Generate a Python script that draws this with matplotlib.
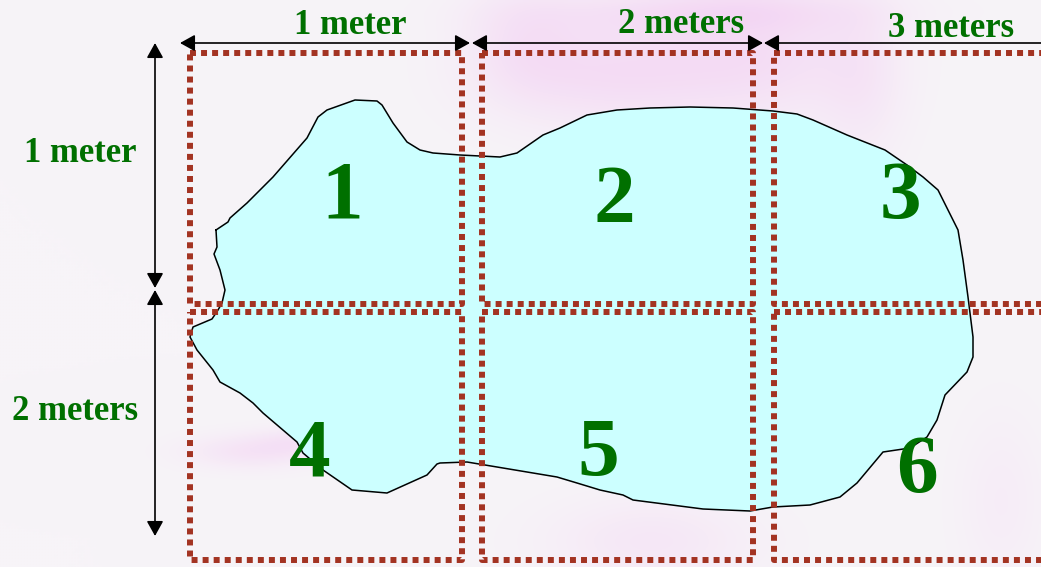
import numpy as np
import matplotlib.pyplot as plt

# outline of the pond (pixel coords of the picture)
outline_x = [216, 228, 230, 247, 273, 307, 318, 327, 355, 377, 382, 393, 407, 420, 433, 460, 500, 517,
             543, 560, 587, 617, 650, 690, 733, 773, 797, 813, 847, 885, 907, 923, 938, 958, 963, 968,
             973, 973, 967, 945, 937, 927, 910, 883, 857, 840, 810, 773, 750, 703, 633, 623, 600, 577,
             557, 497, 467, 440, 437, 427, 387, 352, 323, 303, 297, 263, 253, 240, 220, 213, 197, 190,
             193, 212, 218, 222, 225, 220, 214, 217, 216]
outline_y = [230, 222, 218, 203, 177, 138, 117, 110, 100, 101, 105, 123, 142, 150, 153, 155, 157, 153,
             135, 128, 115, 110, 108, 107, 108, 111, 114, 120, 135, 150, 165, 177, 190, 230, 260, 297,
             337, 357, 372, 395, 420, 437, 448, 452, 483, 497, 505, 507, 511, 509, 500, 495, 490, 483,
             477, 467, 462, 463, 464, 475, 493, 490, 470, 453, 442, 413, 403, 393, 382, 370, 350, 337,
             327, 319, 310, 303, 290, 270, 254, 247, 230]

# grid cells
col_left = [190, 482, 774]
col_right = [462, 753, 1060]
row_top = [53, 312]
row_bottom = [304, 560]

cell_labels = ['1', '2', '3', '4', '5', '6']
cell_label_x = [342, 614, 900, 310, 598, 917]
cell_label_y = [218, 222, 218, 475, 475, 492]

# dimension arrows
h_arrows = [(180, 470), (472, 763), (764, 1060)]
h_arrow_y = 43
h_texts = ['1 meter', '2 meters', '3 meters']
h_text_x = [350, 681, 951]
h_text_y = [34, 33, 37]

v_arrows = [(43, 288), (290, 536)]
v_arrow_x = 155
v_texts = ['1 meter', '2 meters']
v_text_x = [80, 75]
v_text_y = [162, 420]

# faint pink clouds in the background: x, y, sx, sy, strength
blobs = [(610, 70, 80, 40, 0.6), (760, 50, 70, 50, 0.55), (520, 40, 40, 40, 0.35),
         (700, 10, 120, 15, 0.4), (860, 80, 30, 60, 0.3), (250, 450, 45, 12, 0.45),
         (300, 440, 30, 10, 0.35), (650, 540, 70, 30, 0.35), (1000, 500, 30, 60, 0.2)]

green = '#007000'
dots = '#a33322'
serif = 'Liberation Serif'

fig = plt.figure(figsize=(10.41, 5.67), dpi=100)
ax = fig.add_axes([0, 0, 1, 1])
ax.set_xlim(0, 1041)
ax.set_ylim(567, 0)
ax.axis('off')

# background
gx, gy = np.meshgrid(np.arange(0, 1041, 3), np.arange(0, 567, 3))
amt = np.zeros(gx.shape)
for bx, by, sx, sy, s in blobs:
    amt += s * np.exp(-((gx - bx) ** 2 / (2 * sx ** 2) + (gy - by) ** 2 / (2 * sy ** 2)))
amt = np.clip(amt, 0, 1)
bg = np.array([247, 244, 248]) / 255
pink = np.array([243, 208, 243]) / 255
img = bg[None, None, :] * (1 - amt[..., None]) + pink[None, None, :] * amt[..., None]
ax.imshow(img, extent=(0, 1041, 567, 0), aspect='auto', zorder=0, interpolation='bilinear')

ax.fill(outline_x, outline_y, color='#ccffff', zorder=1)
ax.plot(outline_x, outline_y, color='black', lw=1.1, zorder=2)

for i in range(2):
    for j in range(3):
        x0, x1 = col_left[j], col_right[j]
        y0, y1 = row_top[i], row_bottom[i]
        ax.plot([x0, x1, x1, x0, x0], [y0, y0, y1, y1, y0], color=dots, lw=4.3,
                linestyle=(0, (1, 0.85)), zorder=3)

for k in range(6):
    ax.text(cell_label_x[k], cell_label_y[k], cell_labels[k], color=green, fontsize=60,
            fontweight='bold', family=serif, ha='center', va='baseline', zorder=5)

astyle = dict(arrowstyle='<|-|>,head_length=9,head_width=5', color='black', lw=1.2,
              shrinkA=0, shrinkB=0, mutation_scale=1)
for a, b in h_arrows:
    ax.annotate('', xy=(a, h_arrow_y), xytext=(b, h_arrow_y), arrowprops=astyle, zorder=4)
for a, b in v_arrows:
    ax.annotate('', xy=(v_arrow_x, a), xytext=(v_arrow_x, b), arrowprops=astyle, zorder=4)

for k in range(3):
    ax.text(h_text_x[k], h_text_y[k], h_texts[k], color=green, fontsize=25, fontweight='bold',
            family=serif, ha='center', va='baseline', zorder=5)
for k in range(2):
    ax.text(v_text_x[k], v_text_y[k], v_texts[k], color=green, fontsize=25, fontweight='bold',
            family=serif, ha='center', va='baseline', zorder=5)

fig.savefig('out.png', dpi=100)
